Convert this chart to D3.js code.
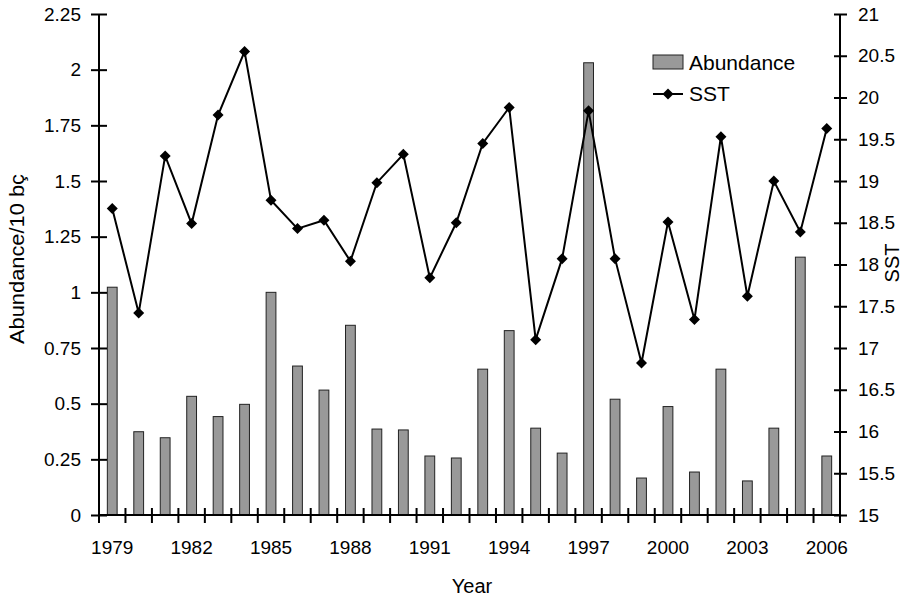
<!DOCTYPE html>
<html>
<head>
<meta charset="utf-8">
<script src="https://cdn.jsdelivr.net/npm/d3@7"></script>
<style>
  html, body { margin: 0; padding: 0; background: #fff; }
  svg { display: block; }
  text { font-family: "Liberation Sans", Arial, sans-serif; fill: #000; }
</style>
</head>
<body>
<svg id="chart" width="920" height="601"></svg>
<script>
// Annual abundance (bars, left axis) and sea surface temperature (line, right axis)
const years = d3.range(1979, 2007);
const abundance = [1.023, 0.374, 0.347, 0.533, 0.442, 0.497, 1.0, 0.669, 0.561, 0.852,
                   0.386, 0.382, 0.265, 0.256, 0.655, 0.828, 0.39, 0.278, 2.031, 0.52,
                   0.166, 0.487, 0.193, 0.655, 0.153, 0.39, 1.158, 0.265];
const sst = [18.67, 17.42, 19.30, 18.49, 19.79, 20.55, 18.77, 18.43, 18.53, 18.04,
             18.98, 19.32, 17.84, 18.50, 19.45, 19.88, 17.10, 18.07, 19.84, 18.07,
             16.82, 18.51, 17.34, 19.53, 17.62, 19.00, 18.39, 19.63];
const leftTicks = [0, 0.25, 0.5, 0.75, 1, 1.25, 1.5, 1.75, 2, 2.25];
const rightTicks = d3.range(15, 21.01, 0.5);
const labelledYears = [1979, 1982, 1985, 1988, 1991, 1994, 1997, 2000, 2003, 2006];

const svg = d3.select("#chart");
const m = { left: 99, right: 840, top: 14, bottom: 515 };

const x = d3.scaleBand().domain(years).range([m.left, m.right]).padding(0);
const yL = d3.scaleLinear().domain([0, 2.25]).range([m.bottom, m.top]);
const yR = d3.scaleLinear().domain([15, 21]).range([m.bottom, m.top]);

const barW = x.bandwidth() * 0.37;
const cx = d => x(d) + x.bandwidth() / 2;

// Bars
svg.append("g").selectAll("rect")
  .data(years.map((yr, i) => ({ yr, v: abundance[i] })))
  .join("rect")
  .attr("x", d => cx(d.yr) - barW / 2)
  .attr("y", d => yL(d.v))
  .attr("width", barW)
  .attr("height", d => yL(0) - yL(d.v))
  .attr("fill", "#999999")
  .attr("stroke", "#222")
  .attr("stroke-width", 1);

// SST line
const pts = years.map((yr, i) => ({ yr, v: sst[i] }));
svg.append("path")
  .datum(pts)
  .attr("fill", "none")
  .attr("stroke", "#000")
  .attr("stroke-width", 2)
  .attr("d", d3.line().x(d => cx(d.yr)).y(d => yR(d.v)));

const diamond = r => `M0,${-r}L${r},0L0,${r}L${-r},0Z`;
svg.append("g").selectAll("path")
  .data(pts)
  .join("path")
  .attr("transform", d => `translate(${cx(d.yr)},${yR(d.v)})`)
  .attr("d", diamond(5.5))
  .attr("fill", "#000");

// Axes (tick marks crossing the axis line)
const axL = svg.append("g").attr("transform", `translate(${m.left},0)`)
  .call(d3.axisLeft(yL).tickValues(leftTicks).tickSize(8).tickPadding(10)
    .tickFormat(d => d3.format("")(+d.toFixed(2))));
const axR = svg.append("g").attr("transform", `translate(${m.right},0)`)
  .call(d3.axisRight(yR).tickValues(rightTicks).tickSize(7).tickPadding(11)
    .tickFormat(d => d3.format("")(+d.toFixed(1))));
const axB = svg.append("g").attr("transform", `translate(0,${m.bottom})`)
  .call(d3.axisBottom(x).tickValues(labelledYears).tickSize(0).tickPadding(26));

[axL, axR, axB].forEach(g => {
  g.select(".domain").attr("stroke", "#000").attr("stroke-width", 2);
  g.selectAll(".tick line").attr("stroke", "#000").attr("stroke-width", 2);
  g.selectAll(".tick text").attr("font-size", 19).attr("fill", "#000")
    .attr("font-family", "'Liberation Sans', Arial, sans-serif");
});
// extend tick marks to cross the axis lines
axL.selectAll(".tick line").attr("x1", 8);
axR.selectAll(".tick line").attr("x1", -6);
axL.select(".domain").attr("d", `M0,${m.bottom}V${m.top}`);
axR.select(".domain").attr("d", `M0,${m.bottom}V${m.top}`);
axB.select(".domain").attr("d", `M${m.left},0H${m.right}`);

// category boundary ticks on the x axis
const bounds = years.map(yr => x(yr)).concat([m.right]);
axB.append("g").selectAll("line")
  .data(bounds)
  .join("line")
  .attr("x1", d => d).attr("x2", d => d)
  .attr("y1", -7).attr("y2", 8)
  .attr("stroke", "#000").attr("stroke-width", 2);

// Axis titles
svg.append("text")
  .attr("transform", `translate(24,259) rotate(-90)`)
  .attr("text-anchor", "middle")
  .attr("font-size", 20)
  .attr("textLength", 170)
  .attr("lengthAdjust", "spacingAndGlyphs")
  .text("Abundance/10 bç");
svg.append("text")
  .attr("transform", `translate(899,263) rotate(-90)`)
  .attr("text-anchor", "middle")
  .attr("font-size", 20)
  .text("SST");
svg.append("text")
  .attr("x", 472).attr("y", 593)
  .attr("text-anchor", "middle")
  .attr("font-size", 20)
  .text("Year");

// Legend
const lg = svg.append("g");
lg.append("rect").attr("x", 653).attr("y", 55).attr("width", 30).attr("height", 14)
  .attr("fill", "#999999").attr("stroke", "#222").attr("stroke-width", 1);
lg.append("text").attr("x", 689).attr("y", 70).attr("font-size", 21).text("Abundance");
lg.append("line").attr("x1", 653).attr("x2", 683).attr("y1", 94).attr("y2", 94)
  .attr("stroke", "#000").attr("stroke-width", 2);
lg.append("path").attr("transform", "translate(668,94)").attr("d", diamond(5.5)).attr("fill", "#000");
lg.append("text").attr("x", 689).attr("y", 101).attr("font-size", 21).text("SST");
</script>
</body>
</html>
